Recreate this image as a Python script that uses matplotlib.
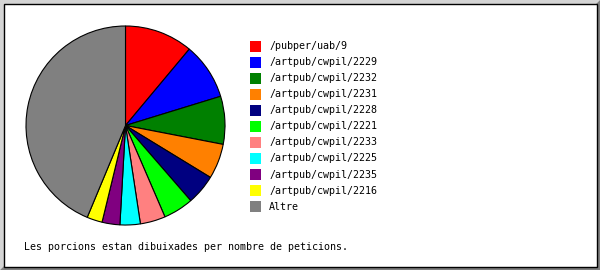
import matplotlib.pyplot as plt
from matplotlib.patches import Rectangle, Polygon

W, H = 600, 270

labels = ['/pubper/uab/9', '/artpub/cwpil/2229', '/artpub/cwpil/2232',
          '/artpub/cwpil/2231', '/artpub/cwpil/2228', '/artpub/cwpil/2221',
          '/artpub/cwpil/2233', '/artpub/cwpil/2225', '/artpub/cwpil/2235',
          '/artpub/cwpil/2216', 'Altre']
requests = [111, 92, 78, 57, 49, 49, 41, 33, 29, 25, 438]
colors = ['#ff0000', '#0000ff', '#008000', '#ff8000', '#000080', '#00ff00',
          '#ff8080', '#00ffff', '#800080', '#ffff00', '#808080']
footer = 'Les porcions estan dibuixades per nombre de peticions.'

fig = plt.figure(figsize=(W / 100, H / 100), dpi=100)
fig.patch.set_facecolor('white')

def fx(px):
    return px / W

def fy(py):
    return 1 - py / H

# beveled frame: light top/left, dark bottom/right, black inner line
fig.patches.append(Polygon([(0, 1), (1, 1), (fx(596), fy(4)), (fx(4), fy(4)),
                            (fx(4), fy(266)), (0, 0)], closed=True,
                           transform=fig.transFigure, facecolor='#d4d4d4',
                           edgecolor='none', zorder=-3))
fig.patches.append(Polygon([(1, 1), (1, 0), (0, 0), (fx(4), fy(266)),
                            (fx(596), fy(266)), (fx(596), fy(4))], closed=True,
                           transform=fig.transFigure, facecolor='#808080',
                           edgecolor='none', zorder=-3))
fig.patches.append(Rectangle((fx(3.5), fy(266.5)), fx(593), 263 / H,
                             transform=fig.transFigure, facecolor='white',
                             edgecolor='black', linewidth=1, zorder=-2))

# pie
ax = fig.add_axes([fx(25), fy(226), fx(201), 201 / H])
ax.set_zorder(2)
ax.patch.set_visible(False)
ax.pie(requests, colors=colors, startangle=90, counterclock=False,
       radius=1, wedgeprops=dict(edgecolor='black', linewidth=0.8))
ax.set_xlim(-1.01, 1.01)
ax.set_ylim(-1.01, 1.01)
ax.set_aspect('equal')
ax.axis('off')

# legend
for i, (lab, col) in enumerate(zip(labels, colors)):
    yc = 46 + 16.07 * i
    fig.patches.append(Rectangle((fx(250), fy(yc + 5.5)), fx(11), 11 / H,
                                 transform=fig.transFigure, facecolor=col,
                                 edgecolor='none'))
    fig.text(fx(269), fy(yc), lab, fontsize=7.2, family='DejaVu Sans Mono',
             va='center', ha='left')

fig.text(fx(24), fy(247), footer, fontsize=7.2, family='DejaVu Sans Mono',
         va='center', ha='left')

fig.savefig('out.png', dpi=100)
